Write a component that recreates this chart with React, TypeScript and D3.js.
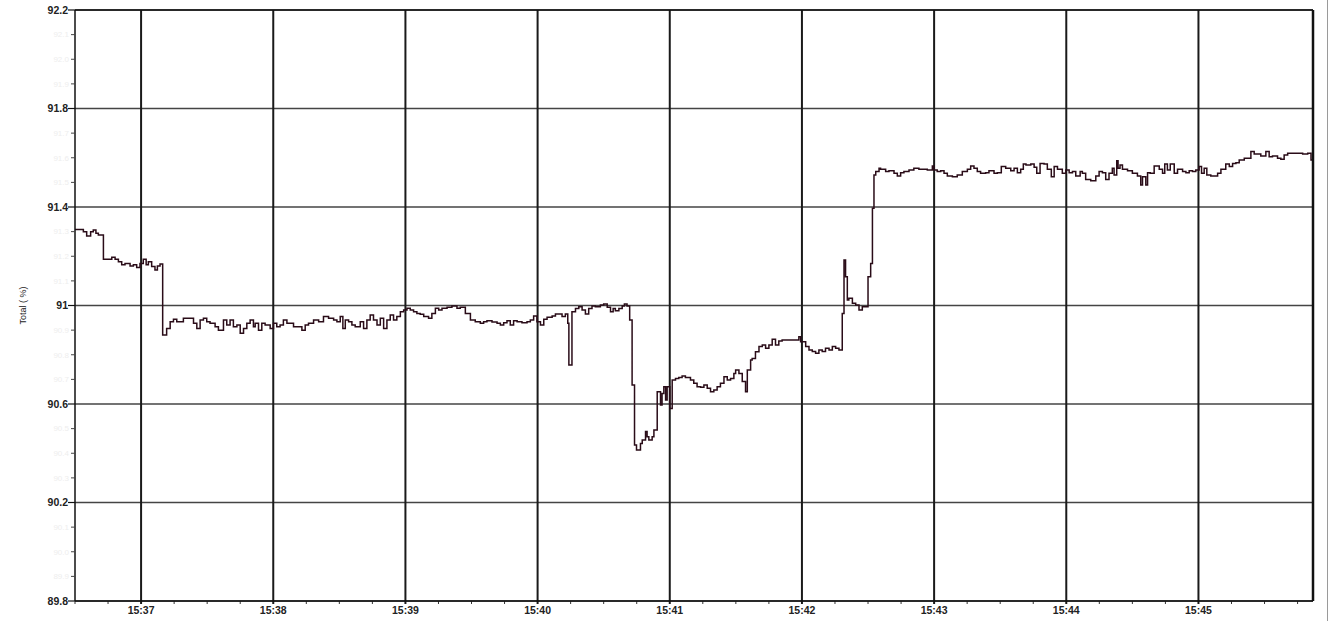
import React from 'react';
import * as d3 from 'd3';

// Recording window: seconds counted from 15:36:30
const startTime = new Date(2000, 0, 1, 15, 36, 30);
const windowSeconds = 562;

const yMin = 89.8;
const yMax = 92.2;
const yMajorTicks = [89.8, 90.2, 90.6, 91, 91.4, 91.8, 92.2];
const timeTickLabels = ['15:37', '15:38', '15:39', '15:40', '15:41', '15:42', '15:43', '15:44', '15:45'];
const axisTitle = 'Total ( %)';

// [seconds after 15:36:30, total %] — each value holds until the next reading
const startupRun: [number, number][] = [
  [0, 91.309], [3.8, 91.3], [5.3, 91.282], [7.1, 91.3], [8.3, 91.307], [9.5, 91.293], [10.6, 91.286],
  [12.9, 91.188], [16.7, 91.196], [18.2, 91.188], [19.7, 91.178], [21.2, 91.165], [22.7, 91.171],
  [25.0, 91.16], [26.5, 91.165], [28.0, 91.154], [29.5, 91.171], [31.0, 91.188], [32.3, 91.165],
  [33.3, 91.178], [34.8, 91.158], [36.3, 91.144], [37.4, 91.16], [38.6, 91.169],
];

const steadyRun: [number, number][] = [
  [39.8, 90.88], [41.6, 90.907], [43.2, 90.934], [44.7, 90.944], [46.2, 90.934], [49.2, 90.948],
  [53.8, 90.928], [55.3, 90.907], [56.8, 90.941], [58.3, 90.948], [59.8, 90.934], [61.3, 90.928],
  [63.6, 90.914], [65.1, 90.9], [67.4, 90.941], [68.9, 90.921], [70.4, 90.941], [71.9, 90.914],
  [73.5, 90.921], [75.0, 90.887], [76.5, 90.907], [78.0, 90.928], [79.5, 90.941], [81.0, 90.914],
  [81.8, 90.928], [83.3, 90.9], [84.8, 90.928], [86.3, 90.921], [88.6, 90.907], [90.1, 90.928],
  [91.6, 90.914], [93.1, 90.921], [94.6, 90.941], [96.2, 90.928], [99.2, 90.914], [103.0, 90.9],
  [104.5, 90.921], [106.0, 90.928], [108.3, 90.941], [110.6, 90.934], [112.8, 90.955], [115.1, 90.948],
  [117.4, 90.941], [118.9, 90.934], [120.4, 90.955], [121.6, 90.907], [122.7, 90.941], [124.2, 90.934],
  [125.7, 90.921], [127.2, 90.914], [129.5, 90.934], [131.0, 90.907], [132.5, 90.941], [134.0, 90.961],
  [135.5, 90.941], [137.1, 90.921], [138.6, 90.948], [140.1, 90.907], [141.6, 90.941], [143.1, 90.961],
  [144.6, 90.941], [146.1, 90.955], [147.7, 90.975], [149.2, 90.982], [150.7, 90.989], [152.2, 90.982],
  [153.7, 90.975], [155.2, 90.968], [156.7, 90.964], [158.3, 90.955], [160.5, 90.948], [162.0, 90.968],
  [163.6, 90.989], [165.1, 90.982], [166.6, 90.989], [168.9, 90.993], [171.1, 90.998], [173.4, 90.989],
  [174.9, 90.993], [177.2, 90.968], [179.5, 90.941], [181.7, 90.934],
  [184.0, 90.928], [185.5, 90.934], [187.0, 90.938], [189.3, 90.933], [191.6, 90.928], [193.1, 90.921],
  [194.6, 90.93], [196.1, 90.938], [197.6, 90.921], [199.1, 90.938], [200.7, 90.934], [202.9, 90.93],
  [205.2, 90.934], [206.7, 90.941], [208.2, 90.957], [209.7, 90.934], [211.3, 90.921], [212.8, 90.944],
  [214.3, 90.952], [216.6, 90.957], [218.1, 90.965], [221.1, 90.955], [222.6, 90.965], [223.7, 90.928],
  [224.2, 90.758], [225.6, 90.975], [227.2, 90.988], [228.7, 90.995], [230.2, 90.982], [231.7, 90.965],
  [233.2, 90.988], [234.7, 90.998], [236.2, 90.995], [238.5, 91.002], [240.0, 91.006], [241.6, 90.993],
  [243.1, 90.975], [244.3, 90.988], [245.3, 90.979], [246.9, 90.988], [248.4, 90.998], [249.4, 91.006],
  [250.6, 90.998],
];

const dipAndRecovery: [number, number][] = [
  [251.8, 90.941], [252.9, 90.677], [254.0, 90.433], [254.9, 90.413], [256.7, 90.44], [257.5, 90.454],
  [259.0, 90.488], [259.7, 90.467], [260.5, 90.454], [262.0, 90.467], [262.8, 90.494], [264.3, 90.65],
  [265.8, 90.596], [266.5, 90.643], [267.3, 90.67], [268.1, 90.616], [268.8, 90.67], [270.0, 90.582],
  [271.1, 90.697], [272.6, 90.704], [274.1, 90.708], [275.6, 90.714], [277.1, 90.708], [279.4, 90.697],
  [280.9, 90.684], [282.4, 90.67], [284.0, 90.668], [285.5, 90.677], [287.0, 90.664], [288.5, 90.65],
  [290.0, 90.657], [291.5, 90.67], [293.0, 90.684], [294.6, 90.711], [296.1, 90.697], [297.6, 90.704],
  [299.1, 90.724], [299.9, 90.738], [301.4, 90.724], [302.9, 90.691], [304.4, 90.65], [305.2, 90.738],
  [306.7, 90.779], [307.4, 90.785], [308.9, 90.812], [310.5, 90.833], [312.0, 90.84], [313.5, 90.826],
  [315.0, 90.84], [316.5, 90.863], [318.0, 90.84], [319.5, 90.856], [321.0, 90.86], [328.6, 90.873],
  [329.4, 90.853], [331.7, 90.833], [333.2, 90.819], [334.7, 90.813], [336.2, 90.806], [337.7, 90.819],
  [339.2, 90.813], [340.7, 90.826], [342.3, 90.819], [343.8, 90.833], [345.3, 90.826], [346.8, 90.819],
  [348.3, 90.968], [349.1, 91.185], [349.8, 91.117], [350.6, 91.022], [351.3, 91.029], [352.9, 91.009],
  [354.4, 91.002], [355.9, 90.982], [357.4, 90.995], [360.0, 91.117], [361.2, 91.171], [362.0, 91.395],
  [362.7, 91.53], [363.5, 91.544], [365.0, 91.557],
];

const highRun: [number, number][] = [
  [365.7, 91.553], [368.0, 91.544], [369.5, 91.547], [371.8, 91.537], [373.3, 91.526], [374.8, 91.539],
  [376.3, 91.544], [378.6, 91.55], [380.8, 91.557], [383.1, 91.553], [386.9, 91.55], [389.2, 91.567],
  [389.9, 91.55], [391.4, 91.544], [393.0, 91.547], [394.5, 91.537], [396.0, 91.526], [398.3, 91.523],
  [400.5, 91.53], [402.8, 91.544], [405.1, 91.553], [406.6, 91.567], [408.1, 91.557], [409.6, 91.544],
  [411.1, 91.537], [413.4, 91.539], [414.9, 91.547], [417.2, 91.537], [418.7, 91.539], [420.5, 91.564],
  [422.5, 91.557], [424.8, 91.547], [426.3, 91.557], [427.8, 91.539], [429.3, 91.553], [430.5, 91.575],
  [431.7, 91.571], [433.9, 91.575], [435.4, 91.561], [436.6, 91.537], [438.1, 91.577], [439.9, 91.575],
  [441.4, 91.553], [443.2, 91.523], [444.5, 91.564], [446.0, 91.553], [448.2, 91.537], [449.8, 91.55],
  [451.3, 91.539], [452.8, 91.544], [454.3, 91.526], [456.3, 91.544], [457.3, 91.537], [458.8, 91.512],
  [461.1, 91.507], [463.4, 91.526], [464.9, 91.544], [466.4, 91.539], [467.9, 91.512], [469.4, 91.537],
  [470.9, 91.557], [471.7, 91.53], [472.9, 91.588], [473.5, 91.557], [474.4, 91.571], [475.5, 91.553],
  [477.8, 91.547], [480.0, 91.537], [482.3, 91.526], [483.8, 91.489], [484.6, 91.523], [486.1, 91.489],
  [486.9, 91.539], [488.1, 91.537], [489.9, 91.567], [492.2, 91.553], [493.7, 91.537], [494.7, 91.575],
  [495.9, 91.55], [497.2, 91.575], [499.0, 91.537], [500.5, 91.553], [502.8, 91.544], [504.3, 91.539],
  [505.8, 91.547], [507.3, 91.544], [508.8, 91.55], [510.3, 91.564], [511.4, 91.537], [512.6, 91.557],
  [513.8, 91.53], [515.6, 91.526], [518.7, 91.537], [520.2, 91.553], [522.4, 91.575], [524.0, 91.564],
  [525.5, 91.577], [527.0, 91.58], [528.5, 91.591], [530.8, 91.598], [533.8, 91.625], [535.3, 91.615],
  [538.3, 91.607], [540.6, 91.625], [542.1, 91.604], [543.6, 91.607], [545.9, 91.598], [547.4, 91.594],
  [548.9, 91.611], [550.5, 91.618], [557.3, 91.615], [559.6, 91.618], [561.1, 91.591], [562.0, 91.591],
];

const W = 1333;
const H = 621;
const plot = { left: 75, right: 1313, top: 10, bottom: 601 };
const fontFamily = '"Liberation Sans", Arial, Helvetica, sans-serif';

const at = (s: number) => new Date(startTime.getTime() + s * 1000);

export default function App() {
  const x = d3
    .scaleTime()
    .domain([startTime, at(windowSeconds)])
    .range([plot.left, plot.right]);
  const y = d3.scaleLinear().domain([yMin, yMax]).range([plot.bottom, plot.top]);

  const series = [...startupRun, ...steadyRun, ...dipAndRecovery, ...highRun].map(
    ([s, v]) => ({ t: at(s), v })
  );

  const line = d3
    .line<{ t: Date; v: number }>()
    .x((d) => x(d.t))
    .y((d) => y(d.v))
    .curve(d3.curveStepAfter);

  const minuteTicks = x.ticks(d3.timeMinute.every(1)!);
  const quarterTicks = x
    .ticks(d3.timeSecond.every(15)!)
    .filter((d) => d.getSeconds() !== 0);
  const fmtMinute = d3.timeFormat('%H:%M');
  const labelFor = (d: Date) => timeTickLabels.find((l) => l === fmtMinute(d)) ?? fmtMinute(d);

  const yMinor = d3
    .range(Math.round(yMin * 10), Math.round(yMax * 10) + 1)
    .map((k) => k / 10)
    .filter((v) => !yMajorTicks.some((m) => Math.abs(m - v) < 1e-6));

  return (
    <svg
      width={W}
      height={H}
      style={{ position: 'absolute', left: 0, top: 0, background: '#fff' }}
      fontFamily={fontFamily}
    >
      <rect x={0} y={0} width={W} height={H} fill="#fff" />

      {/* horizontal grid */}
      {yMajorTicks.map((v) => (
        <line
          key={`hg${v}`}
          x1={plot.left}
          x2={plot.right}
          y1={y(v)}
          y2={y(v)}
          stroke="#444"
          strokeWidth={1.4}
        />
      ))}

      {/* minute grid */}
      {minuteTicks.map((d) => (
        <line
          key={`vg${d.getTime()}`}
          x1={x(d)}
          x2={x(d)}
          y1={plot.top}
          y2={plot.bottom + 3}
          stroke="#1a1a1a"
          strokeWidth={2}
        />
      ))}

      {/* quarter-minute ticks */}
      {quarterTicks.map((d) => (
        <line
          key={`qt${d.getTime()}`}
          x1={x(d)}
          x2={x(d)}
          y1={plot.bottom}
          y2={plot.bottom + 3}
          stroke="#333"
          strokeWidth={1}
        />
      ))}

      {/* trace */}
      <path d={line(series) ?? ''} fill="none" stroke="#2a0c18" strokeWidth={1.5} />

      {/* frame */}
      <line x1={plot.left} x2={plot.left} y1={plot.top} y2={plot.bottom} stroke="#111" strokeWidth={1.5} />
      <line x1={plot.left} x2={plot.right} y1={plot.bottom} y2={plot.bottom} stroke="#111" strokeWidth={1.5} />
      <line x1={plot.left} x2={plot.right} y1={plot.top} y2={plot.top} stroke="#111" strokeWidth={1.5} />
      <line x1={plot.right} x2={plot.right} y1={plot.top} y2={plot.bottom} stroke="#111" strokeWidth={2.5} />
      <line x1={1327.5} x2={1327.5} y1={0} y2={H} stroke="#9a9a9a" strokeWidth={1} />

      {/* y axis ticks and labels */}
      {yMajorTicks.map((v) => (
        <g key={`yl${v}`}>
          <line x1={plot.left - 7} x2={plot.left} y1={y(v)} y2={y(v)} stroke="#111" strokeWidth={1.2} />
          <text
            x={plot.left - 7}
            y={y(v)}
            dy="0.35em"
            textAnchor="end"
            fontSize={10.5}
            fontWeight="bold"
            fill="#222"
          >
            {String(v)}
          </text>
        </g>
      ))}
      {yMinor.map((v) => (
        <g key={`ym${v}`}>
          <line x1={plot.left - 4} x2={plot.left} y1={y(v)} y2={y(v)} stroke="#444" strokeWidth={1} />
          <text
            x={plot.left - 6}
            y={y(v)}
            dy="0.35em"
            textAnchor="end"
            fontSize={8}
            fill="#eeeeee"
          >
            {v.toFixed(1)}
          </text>
        </g>
      ))}

      {/* x axis labels */}
      {minuteTicks.map((d) => (
        <text
          key={`xl${d.getTime()}`}
          x={x(d)}
          y={plot.bottom + 13}
          textAnchor="middle"
          fontSize={10.5}
          fontWeight="bold"
          fill="#222"
        >
          {labelFor(d)}
        </text>
      ))}

      {/* axis title */}
      <text
        transform={`translate(23, ${(plot.top + plot.bottom) / 2}) rotate(-90)`}
        textAnchor="middle"
        dy="0.35em"
        fontSize={9}
        fill="#222"
      >
        {axisTitle}
      </text>
    </svg>
  );
}
